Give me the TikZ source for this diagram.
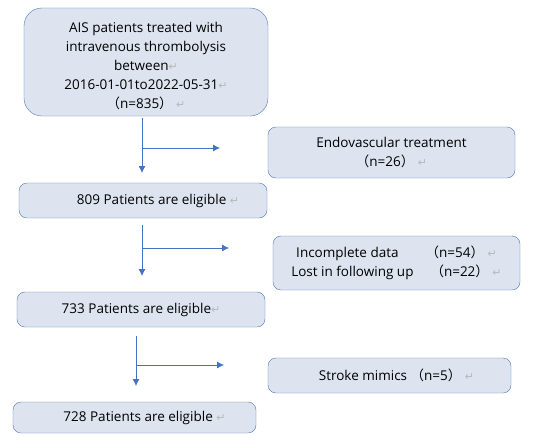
\documentclass[tikz,border=0pt]{standalone}
\usepackage{fontspec}
\setmainfont{Open Sans}
\newfontfamily\cjk{Noto Sans CJK SC}
\newfontfamily\symfont{DejaVu Sans}
\usetikzlibrary{arrows.meta}

\definecolor{boxfill}{HTML}{DDE4EF}
\definecolor{boxline}{HTML}{5177B0}
\definecolor{arrowblue}{HTML}{4472C4}
\newcommand{\ret}{{\color{gray!55}\symfont\fontsize{11}{11}\selectfont ↵}}
\newcommand{\lpar}{{\cjk （}}
\newcommand{\rpar}{{\cjk ）}}

\tikzset{
  flowbox/.style={draw=boxline, fill=boxfill, rounded corners=8pt, align=center,
    font=\fontsize{13.5}{19}\selectfont, inner sep=0pt},
  flowarrow/.style={draw=arrowblue, line width=0.8pt, -{Latex[length=7pt,width=7pt]}},
}

\begin{document}
\begin{tikzpicture}[x=1pt, y=-1pt]
    \useasboundingbox (0,0) rectangle (533,445);
    % main column
    \node[flowbox, rounded corners=18pt, minimum width=244pt, minimum height=108pt] (all) at (146,62) {};
    \node[align=center, font=\fontsize{13.5}{19}\selectfont, inner sep=0pt] (alltext) at (146,66)
      {AIS patients treated with\\ intravenous thrombolysis\\ between\ret\\ 2016-01-01to2022-05-31\ret\\ \lpar n=835\rpar\ \ret};
    \node[flowbox, minimum width=248pt, minimum height=35pt] (elig1) at (143,200.5)
      {\hspace{30pt}809 Patients are eligible \ret};
    \node[flowbox, minimum width=248pt, minimum height=35pt] (elig2) at (141,309.5)
      {733 Patients are eligible\ret};
    \node[flowbox, minimum width=243pt, minimum height=31pt] (elig3) at (134.5,417.5)
      {\hspace{20pt}728 Patients are eligible \ret};
    % excluded
    \node[flowbox, minimum width=247pt, minimum height=51pt] (endo) at (391.5,152.5)
      {Endovascular treatment\\ \lpar n=26\rpar\ \ret};
    \node[flowbox, minimum width=247pt, minimum height=54pt] (lost) at (396.5,263)
      {Incomplete data\qquad\lpar n=54\rpar\ \ret\\ Lost in following up\quad\ \lpar n=22\rpar\ \ret};
    \node[flowbox, minimum width=243pt, minimum height=35pt] (mimic) at (389.5,375.5)
      {\hspace{14pt}Stroke mimics\ \lpar n=5\rpar\ \ret};
    % arrows
    \coordinate (s1) at (142,118);
    \coordinate (t1) at (142,173);
    \coordinate (b1) at (142,148);
    \coordinate (r1) at (220,148);
    \coordinate (s2) at (142,225);
    \coordinate (t2) at (142,276);
    \coordinate (b2) at (142,248);
    \coordinate (r2) at (229,248);
    \coordinate (s3) at (136,336);
    \coordinate (t3) at (136,386);
    \coordinate (b3) at (136,365);
    \coordinate (r3) at (224,365);
    \foreach \i in {1,2,3} {
      \draw[flowarrow] (s\i) -- (t\i);
      \draw[flowarrow] (b\i) -- (r\i);
    }
\end{tikzpicture}
\end{document}
